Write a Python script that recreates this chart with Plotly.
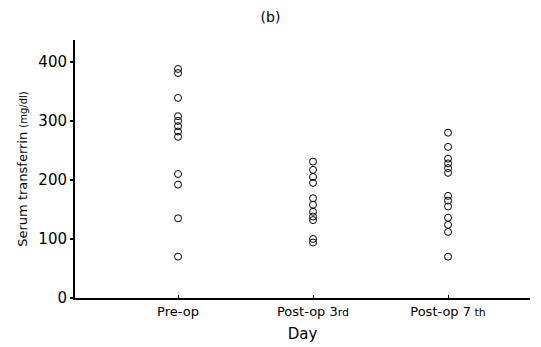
import plotly.graph_objects as go

categories = ["Pre-op", "Post-op 3rd", "Post-op 7th"]
tick_labels = ["Pre-op",
               "Post-op 3<span style='font-size:11px'>rd</span>",
               "Post-op 7<span style='font-size:11px'> th</span>"]

pre_op = [388, 381, 339, 308, 300, 291, 282, 273, 210, 192, 135, 70]
post_op_3rd = [231, 217, 205, 195, 169, 158, 146, 138, 132, 100, 94]
post_op_7th = [280, 256, 236, 228, 220, 212, 173, 165, 155, 136, 124, 112, 70]

series = [pre_op, post_op_3rd, post_op_7th]

fig = go.Figure()
for cat, vals in zip(categories, series):
    fig.add_trace(go.Scatter(
        x=[cat] * len(vals), y=vals, mode="markers",
        marker=dict(symbol="circle-open", size=7, color="black",
                    line=dict(width=1, color="black")),
        showlegend=False, cliponaxis=False))

fig.update_layout(
    width=541, height=347,
    margin=dict(l=75, r=11, t=40, b=49),
    paper_bgcolor="white", plot_bgcolor="white",
    font=dict(family="DejaVu Sans", color="black"),
    title=dict(text="(b)", x=0.5, xanchor="center", y=0.95, yanchor="middle",
               font=dict(size=14)),
)
fig.update_xaxes(
    type="category", categoryorder="array", categoryarray=categories,
    tickmode="array", tickvals=categories, ticktext=tick_labels,
    range=[-0.763, 2.607], automargin=False,
    showline=True, linecolor="black", linewidth=2,
    ticks="inside", ticklen=3, tickcolor="black", tickwidth=1,
    showgrid=False, zeroline=False,
    tickfont=dict(size=13),
    title=dict(text="Day", font=dict(size=15), standoff=11),
)
fig.update_yaxes(
    range=[0, 437], tickvals=[0, 100, 200, 300, 400], automargin=False,
    showline=True, linecolor="black", linewidth=2,
    ticks="outside", ticklen=3, tickcolor="black", tickwidth=1.5,
    showgrid=False, zeroline=False,
    tickfont=dict(size=15),
    title=dict(text="Serum transferrin <span style='font-size:10px'>(mg/dl)</span>",
               font=dict(size=13), standoff=8),
)
fig.write_html("out.html")
